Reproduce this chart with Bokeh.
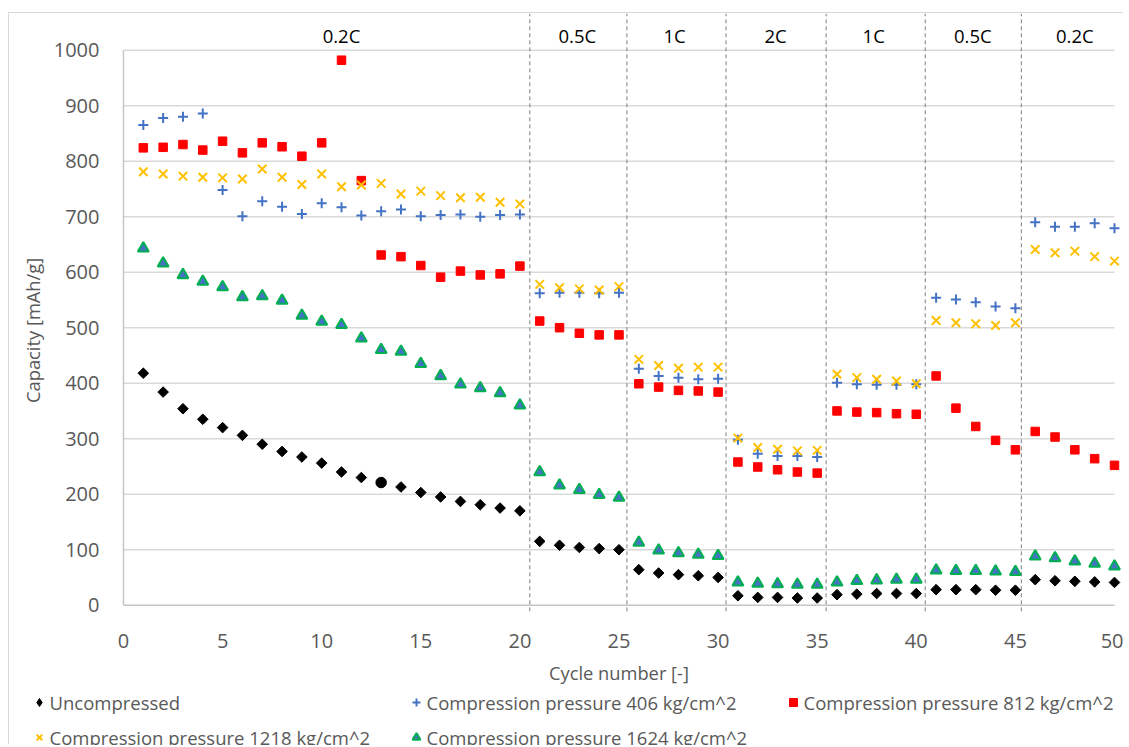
import math
from bokeh.plotting import figure
from bokeh.models import (ColumnDataSource, Legend, LegendItem, FixedTicker, LinearAxis,
                          CDSView, IndexFilter)
from bokeh.core.properties import value
from bokeh.embed import file_html
from bokeh.resources import INLINE

# ---------------- data ----------------
cycles = list(range(1, 51))

uncompressed = [418, 384, 354, 335, 320, 306, 290, 277, 267, 256,
                240, 230, 221, 213, 203, 195, 187, 181, 175, 170,
                115, 108, 104, 102, 100,
                64, 58, 55, 53, 50,
                17, 14, 14, 13, 13,
                19, 20, 21, 21, 21,
                28, 28, 28, 27, 27,
                46, 44, 43, 42, 41]

p406 = [865, 878, 880, 886, 748, 701, 728, 718, 705, 724,
        717, 702, 710, 713, 701, 703, 704, 700, 703, 704,
        562, 563, 563, 562, 563,
        426, 413, 410, 407, 408,
        298, 273, 269, 269, 267,
        401, 398, 397, 397, 398,
        554, 551, 546, 538, 535,
        690, 682, 682, 688, 679]

p812 = [824, 825, 830, 820, 836, 815, 833, 826, 809, 833,
        982, 765, 631, 628, 612, 591, 602, 595, 597, 611,
        512, 500, 490, 487, 487,
        399, 393, 387, 386, 384,
        258, 249, 244, 240, 238,
        350, 348, 347, 345, 344,
        413, 355, 322, 297, 280,
        313, 303, 280, 264, 252]

p1218 = [781, 777, 773, 771, 770, 768, 786, 771, 758, 777,
         754, 757, 760, 741, 746, 738, 734, 735, 726, 723,
         578, 572, 570, 568, 574,
         443, 432, 427, 429, 429,
         301, 284, 281, 278, 279,
         416, 410, 407, 404, 399,
         513, 509, 507, 504, 509,
         641, 635, 638, 628, 620]

p1624 = [643, 616, 595, 583, 573, 555, 557, 549, 522, 511,
         505, 481, 460, 457, 435, 413, 398, 391, 382, 360,
         240, 216, 208, 199, 194,
         113, 99, 94, 91, 89,
         41, 39, 38, 37, 37,
         41, 44, 45, 46, 46,
         63, 62, 62, 61, 60,
         88, 85, 79, 75, 70]

series_names = ["Uncompressed",
                "Compression pressure 406 kg/cm^2",
                "Compression pressure 812 kg/cm^2",
                "Compression pressure 1218 kg/cm^2",
                "Compression pressure 1624 kg/cm^2"]

rate_labels = ["0.2C", "0.5C", "1C", "2C", "1C", "0.5C", "0.2C"]
rate_label_x = [11.0, 22.9, 27.8, 32.9, 37.85, 42.85, 48.0]
rate_boundaries = [20.5, 25.4, 30.4, 35.45, 40.45, 45.3]

x_ticks = [0, 5, 10, 15, 20, 25, 30, 35, 40, 45, 50]
y_ticks = [0, 100, 200, 300, 400, 500, 600, 700, 800, 900, 1000]

x_title = "Cycle number [-]"
y_title = "Capacity  [mAh/g]"

special_index = 12  # the 13th uncompressed point is drawn as a circle

# ---------------- styles ----------------
FONT = "Open Sans"
GRAY_TXT = "#595959"
Y_TOP, Y_BOTTOM = 1066.1, -252.8
DASH_BOTTOM = -11
LABEL_Y = 1026

p = figure(width=1115, height=732,
           x_range=(-5.752, 50.505), y_range=(Y_BOTTOM, Y_TOP),
           output_backend="svg", toolbar_location=None,
           x_axis_location=None, y_axis_location=None,
           min_border_left=0, min_border_right=0, min_border_top=0, min_border_bottom=0)
p.margin = (12, 0, 0, 8)
p.styles = {"border-left": "1px solid #d9d9d9", "border-top": "1px solid #d9d9d9"}
p.outline_line_color = None
p.background_fill_color = "white"
p.border_fill_color = "white"
p.xgrid.visible = False
p.ygrid.visible = False

xaxis = LinearAxis(fixed_location=y_ticks[0], bounds=(x_ticks[0], x_ticks[-1]),
                   ticker=FixedTicker(ticks=x_ticks), axis_label=x_title)
yaxis = LinearAxis(fixed_location=x_ticks[0], bounds=(y_ticks[0], y_ticks[-1]),
                   ticker=FixedTicker(ticks=y_ticks), axis_label=y_title)
for ax in (xaxis, yaxis):
    ax.axis_line_color = None
    ax.major_tick_line_color = None
    ax.minor_tick_line_color = None
    ax.major_label_text_font = FONT
    ax.major_label_text_font_size = "20px"
    ax.major_label_text_color = GRAY_TXT
    ax.axis_label_text_font = FONT
    ax.axis_label_text_font_size = "18.3px"
    ax.axis_label_text_font_style = "normal"
    ax.axis_label_text_color = GRAY_TXT
xaxis.major_label_standoff = 23
xaxis.axis_label_standoff = 8
yaxis.major_label_standoff = 18
yaxis.axis_label_standoff = 6
p.add_layout(xaxis, "below")
p.add_layout(yaxis, "left")

# gridlines and axis lines
p.segment(x0=x_ticks[0], x1=x_ticks[-1], y0=y_ticks[1:], y1=y_ticks[1:],
          line_color="#d9d9d9", line_width=1.5)
p.segment(x0=[x_ticks[0]], x1=[x_ticks[-1]], y0=[y_ticks[0]], y1=[y_ticks[0]],
          line_color="#c6c6c6", line_width=1.5)
p.segment(x0=[x_ticks[0]], x1=[x_ticks[0]], y0=[y_ticks[0]], y1=[y_ticks[-1]],
          line_color="#c6c6c6", line_width=1.5)

# rate boundaries (dashed)
p.segment(x0=rate_boundaries, x1=rate_boundaries, y0=DASH_BOTTOM, y1=Y_TOP,
          line_color="#7f7f7f", line_width=1, line_dash="4 3")

# rate labels
p.text(x=rate_label_x, y=[LABEL_Y] * len(rate_labels), text=rate_labels,
       text_font=value(FONT), text_font_size="18.5px", text_color="black",
       text_align="center", text_baseline="middle")

# series
unc_src = ColumnDataSource(dict(
    x=cycles, y=uncompressed,
    marker=["circle" if i == special_index else "square" for i in range(len(cycles))],
    size=[10.5 if i == special_index else 7.5 for i in range(len(cycles))],
    angle=[0 if i == special_index else math.pi / 4 for i in range(len(cycles))],
))
r_unc = p.scatter("x", "y", source=unc_src, marker="marker", size="size", angle="angle",
                  fill_color="black", line_color="black", line_width=1)
r406 = p.scatter(cycles, p406, marker="cross", size=10, line_color="#4472C4", line_width=2)
r812 = p.scatter(cycles, p812, marker="square", size=8.5, fill_color="#FF0000",
                 line_color="#FF0000", line_width=1)
r1218 = p.scatter(cycles, p1218, marker="x", size=12, line_color="#FFC000", line_width=2)
r1624 = p.scatter(cycles, p1624, marker="triangle", size=11, fill_color="#4472C4",
                  line_color="#00B050", line_width=2)

# legend glyph for the uncompressed series: a diamond that hides inside the first point
r_unc_leg = p.scatter("x", "y", source=unc_src, view=CDSView(filter=IndexFilter([0])),
                      marker="diamond", size=9, fill_color="black", line_color="black")

legend = Legend(items=[LegendItem(label=series_names[0], renderers=[r_unc_leg]),
                       LegendItem(label=series_names[1], renderers=[r406]),
                       LegendItem(label=series_names[2], renderers=[r812]),
                       LegendItem(label=series_names[3], renderers=[r1218]),
                       LegendItem(label=series_names[4], renderers=[r1624])],
                orientation="horizontal", ncols=3, location=(19.5, -5),
                glyph_width=20, glyph_height=26, label_height=26, label_width=347,
                label_standoff=1, spacing=9, padding=0, margin=0,
                label_text_font=FONT, label_text_font_size="18.5px",
                label_text_color=GRAY_TXT,
                background_fill_alpha=0, border_line_alpha=0)
p.add_layout(legend)

open("out.html", "w").write(file_html(p, INLINE))
